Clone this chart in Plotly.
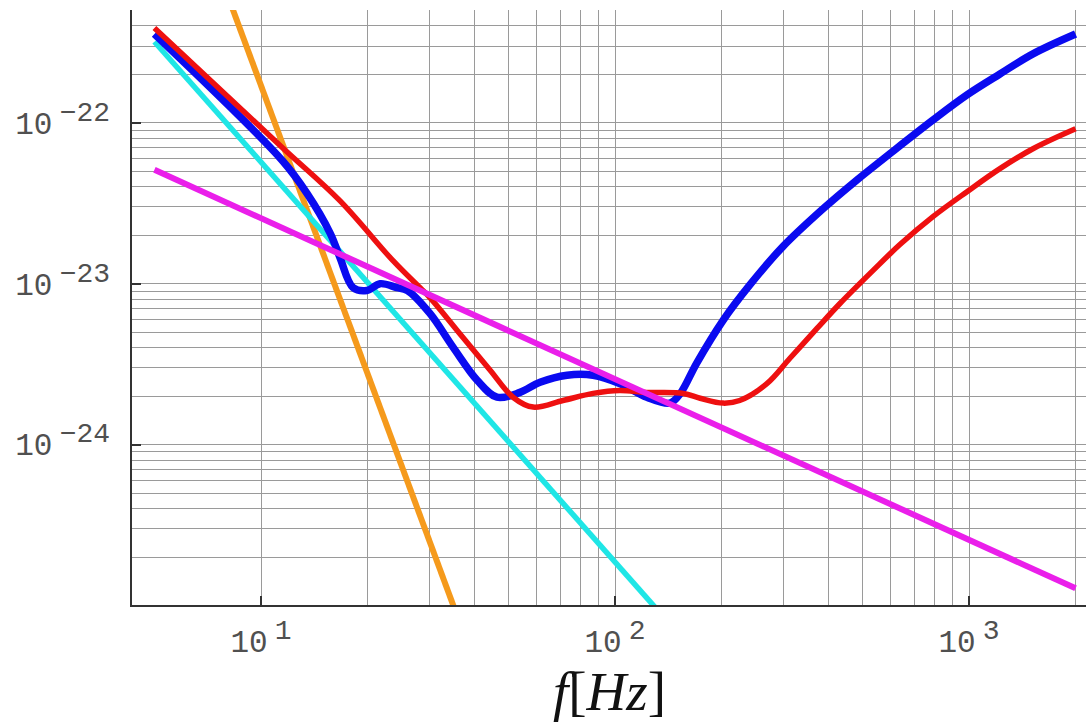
import plotly.graph_objects as go

# ---------------- data ----------------
red_f = [5, 11.5, 16.7, 23.6, 28.1, 30.0, 37.2, 44.4, 51.5, 58.7, 71.3, 86.7, 103, 123, 156,
         174, 202, 225, 269, 312, 372, 432, 536, 638, 791, 987, 1223, 1516, 2000]
red_h = [3.88e-22, 7.0e-23, 3.28e-23, 1.39e-23, 9.46e-24, 8.2e-24, 4.63e-24, 2.9e-24, 1.97e-24,
         1.71e-24, 1.88e-24, 2.08e-24, 2.17e-24, 2.11e-24, 2.08e-24, 1.94e-24, 1.81e-24, 1.88e-24,
         2.40e-24, 3.44e-24, 5.27e-24, 7.53e-24, 1.21e-23, 1.75e-23, 2.61e-23, 3.73e-23, 5.19e-23,
         6.90e-23, 9.18e-23]

blue_f = [5, 11.5, 13.5, 15.7, 16.7, 18.2, 19.9, 21.7, 24.2, 25.9, 30.0, 34.9, 40.8, 46.4, 53.9,
          61.4, 73.2, 86.7, 103, 123, 143, 153, 170, 202, 241, 298, 387, 483, 598, 791, 987,
          1223, 1516, 2000]
blue_h = [3.56e-22, 5.81e-23, 3.63e-23, 2.05e-23, 1.46e-23, 9.46e-24, 9.07e-24, 1.0e-23, 9.46e-24,
          9.07e-24, 6.53e-24, 4.02e-24, 2.51e-24, 1.97e-24, 2.11e-24, 2.44e-24, 2.70e-24, 2.70e-24,
          2.40e-24, 1.97e-24, 1.81e-24, 2.08e-24, 3.2e-24, 5.92e-24, 9.89e-24, 1.70e-23, 2.92e-23,
          4.42e-23, 6.43e-23, 1.04e-22, 1.49e-22, 2.01e-22, 2.68e-22, 3.56e-22]

cyan_f = [5, 10, 20, 50, 100, 150]
cyan_h = [3.19e-22, 5.70e-23, 1.02e-23, 1.04e-24, 1.86e-25, 6.8e-26]

magenta_f = [5, 10, 100, 1000, 2000]
magenta_h = [5.1e-23, 2.55e-23, 2.55e-24, 2.55e-25, 1.28e-25]

orange_f = [5, 10, 20, 40]
orange_h = [1.05e-20, 1.70e-22, 2.75e-24, 4.47e-26]

x_tickvals = [1e1, 1e2, 1e3]
x_exps = ["1", "2", "3"]
y_tickvals = [1e-24, 1e-23, 1e-22]
y_exps = ["\u221224", "\u221223", "\u221222"]

# grid positions (multiples shown as grid lines in the reference)
x_minor = [m * 10 ** e for e in (1, 2) for m in range(2, 10)] + [2000]
y_minor = [m * 10.0 ** e for e in range(-25, -21) for m in range(2, 10)]

LBL = ("10<sup><span style='font-size:12px'> </span>"
       "<span style='font-size:28px'>{}</span></sup>")
x_ticktext = [LBL.format(e) for e in x_exps]
y_ticktext = [LBL.format(e) for e in y_exps]

# ---------------- figure ----------------
fig = go.Figure()
fig.add_trace(go.Scatter(x=orange_f, y=orange_h, mode="lines",
                         line=dict(color="#f59a1c", width=6)))
fig.add_trace(go.Scatter(x=cyan_f, y=cyan_h, mode="lines",
                         line=dict(color="#1fe6e6", width=5.5)))
fig.add_trace(go.Scatter(x=blue_f, y=blue_h, mode="lines",
                         line=dict(color="#0a0af0", width=7.5, shape="spline", smoothing=1.0)))
fig.add_trace(go.Scatter(x=red_f, y=red_h, mode="lines",
                         line=dict(color="#ee1010", width=5.5, shape="spline", smoothing=1.0)))
fig.add_trace(go.Scatter(x=magenta_f, y=magenta_h, mode="lines",
                         line=dict(color="#ea1fea", width=6)))

tickfont = dict(family="Liberation Mono", size=31, color="#505050")
grid = "#9a9a9a"

fig.update_layout(
    width=1086, height=725,
    margin=dict(l=132, r=0, t=10, b=120),
    paper_bgcolor="white", plot_bgcolor="white",
    showlegend=False,
    xaxis=dict(type="log", range=[0.6356, 3.3305],
               tickvals=x_tickvals, ticktext=x_ticktext,
               ticks="inside", ticklen=9, tickcolor="#333333", tickwidth=1.5,
               tickfont=tickfont, ticklabelstandoff=8,
               showgrid=True, gridcolor=grid, gridwidth=1.2,
               showline=True, linecolor="#333333", linewidth=1.5, mirror=False,
               minor=dict(tickvals=x_minor, showgrid=True, gridcolor=grid,
                          gridwidth=1.2, ticks=""),
               zeroline=False),
    yaxis=dict(type="log", range=[-24.997, -21.299],
               tickvals=y_tickvals, ticktext=y_ticktext,
               ticks="inside", ticklen=9, tickcolor="#333333", tickwidth=1.5,
               tickfont=tickfont, ticklabelstandoff=14,
               showgrid=True, gridcolor=grid, gridwidth=1.2,
               showline=True, linecolor="#333333", linewidth=1.5, mirror=False,
               minor=dict(tickvals=y_minor, showgrid=True, gridcolor=grid,
                          gridwidth=1.2, ticks=""),
               zeroline=False),
    annotations=[dict(text="<i>f</i>[<i>Hz</i>]", xref="paper", yref="paper",
                      x=0.5, y=0, xanchor="center", yanchor="top", yshift=-54,
                      showarrow=False,
                      font=dict(family="Liberation Serif", size=55, color="#111111"))],
)

fig.write_html("out.html")
